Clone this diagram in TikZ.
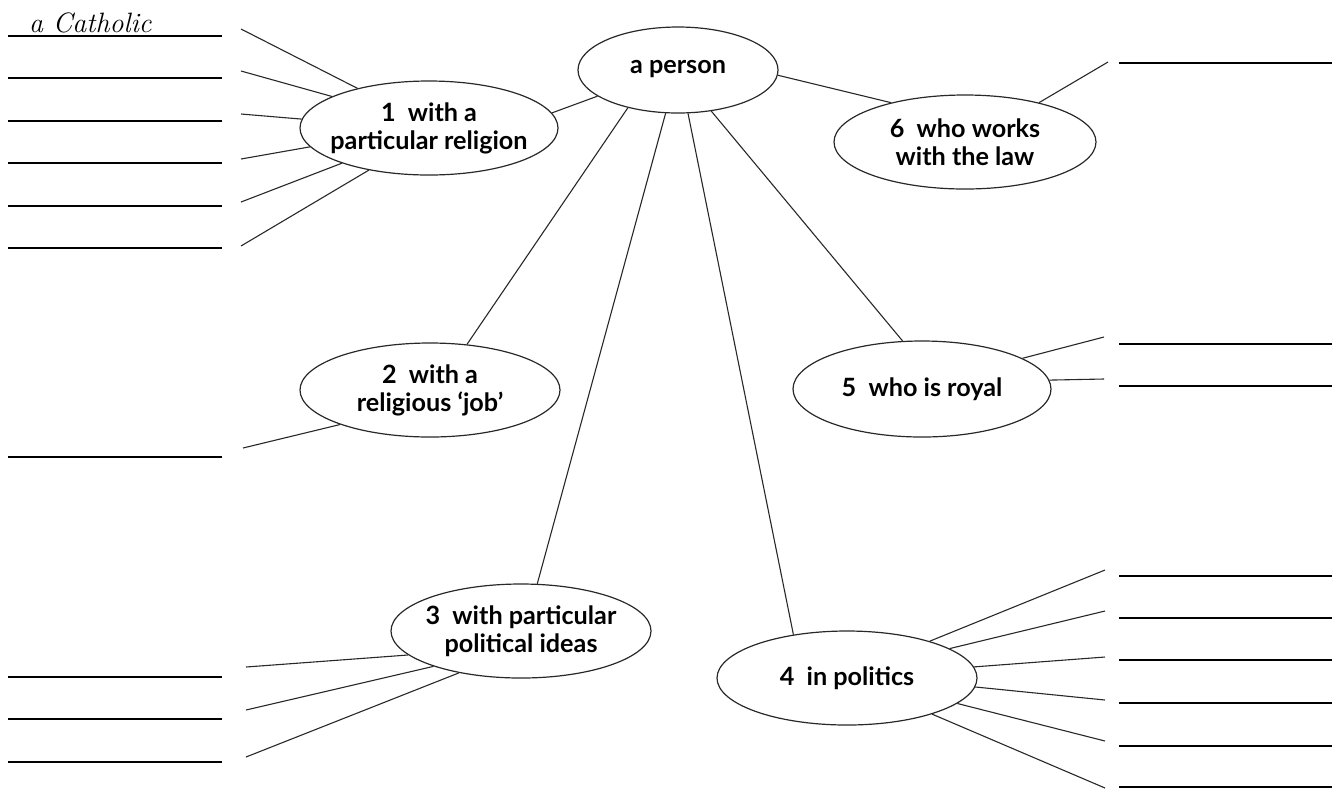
\documentclass[tikz,border=0pt]{standalone}
\usepackage{fontspec}
\setsansfont{Lato}
\usetikzlibrary{shapes.geometric}
\tikzset{>=latex}
\definecolor{inkgray}{RGB}{40,40,40}
\def\linethickness{0.55pt}
\tikzset{
  bubble/.style={ellipse, draw=inkgray, line width=0.6pt, inner sep=0pt},
  bubbletext/.style={font=\sffamily\bfseries\fontsize{12.6}{14}\selectfont, align=center, inner sep=0pt},
  link/.style={draw=inkgray, line width=\linethickness},
  blank/.style={line width=0.8pt},
}

\begin{document}
\begin{tikzpicture}[x=0.5pt, y=-0.5pt]
    \useasboundingbox (0,0) rectangle (1342,789);
    \node[bubble, minimum width=100pt, minimum height=43pt] (person) at (678,70) {};
    \node[bubble, minimum width=129pt, minimum height=47pt] (n1) at (429,128) {};
    \node[bubble, minimum width=130pt, minimum height=47pt] (n2) at (430,390) {};
    \node[bubble, minimum width=130pt, minimum height=47pt] (n3) at (521,631) {};
    \node[bubble, minimum width=130pt, minimum height=47pt] (n4) at (847,678) {};
    \node[bubble, minimum width=129pt, minimum height=48pt] (n5) at (922,389) {};
    \node[bubble, minimum width=131pt, minimum height=47pt] (n6) at (965,142) {};
    \node[bubbletext] (tperson) at (678,69) {a person};
    \node[bubbletext] (t1) at (n1) {1~~with a\\particular religion};
    \node[bubbletext] (t2) at (n2) {2~~with a\\religious `job'};
    \node[bubbletext] (t3) at (n3) {3~~with particular\\political ideas};
    \node[bubbletext] (t4) at (n4) {4~~in politics};
    \node[bubbletext] (t5) at (n5) {5~~who is royal};
    \node[bubbletext] (t6) at (n6) {6~~who works\\with the law};
    \node[anchor=base west, font=\itshape\fontsize{14}{14}\selectfont] (answer) at (22,32) {a Catholic};
    \draw[link] (person.198) -- (n1.7);
    \draw[link] (person.217) -- (n2.51);
    \draw[link] (person.254) -- (n3.71);
    \draw[link] (person.283) -- (n4.141);
    \draw[link] (person.309) -- (n5.112);
    \draw[link] (person.357) -- (n6.152);
    \foreach \y/\a [count=\i] in {29/151, 71/162, 114/176, 159/189, 202/202, 246/215} {
        \coordinate (a\i) at (241,\y);
        \draw[link] (n1.\a) -- (a\i);
    }
    \coordinate (b1) at (243,448);
    \draw[link] (n2.201) -- (b1);
    \foreach \y/\a [count=\i] in {667/192, 710/202, 757/214} {
        \coordinate (c\i) at (246,\y);
        \draw[link] (n3.\a) -- (c\i);
    }
    \foreach \y/\a [count=\i] in {570/24, 611/16, 657/5, 700/356, 741/347, 788/337} {
        \coordinate (d\i) at (1105,\y);
        \draw[link] (n4.\a) -- (d\i);
    }
    \coordinate (e1) at (1104,337);
    \coordinate (e2) at (1104,379);
    \draw[link] (n5.17) -- (e1);
    \draw[link] (n5.4) -- (e2);
    \coordinate (f1) at (1108,62);
    \draw[link] (n6.28) -- (f1);
    \foreach \y in {36,78,121,163,206,248,457,677,719,762}
        \draw[blank] (8,\y) -- (222,\y);
    \foreach \y in {63,344,386,576,618,660,703,746,787}
        \draw[blank] (1119,\y) -- (1332,\y);
\end{tikzpicture}
\end{document}
